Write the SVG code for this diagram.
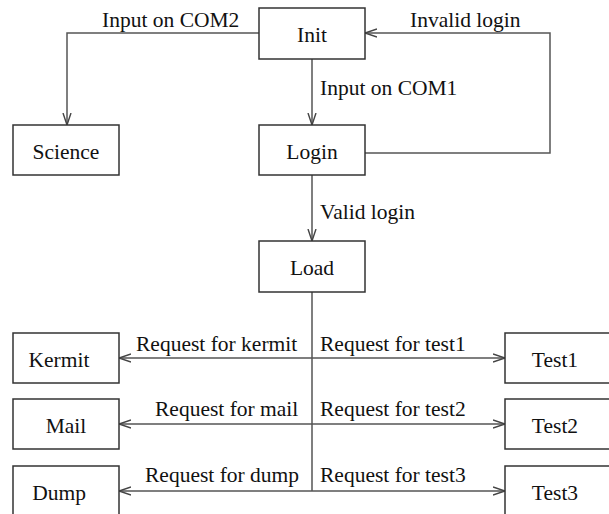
<svg xmlns="http://www.w3.org/2000/svg" width="609" height="514" viewBox="0 0 609 514">
<defs>
<style>
.box{fill:#fff;stroke:#333;stroke-width:1.5}
.t{font-family:"Liberation Serif","Times New Roman","DejaVu Serif",serif;font-size:21.5px;fill:#111}
.c{text-anchor:middle}
.ln{fill:none;stroke:#555;stroke-width:1.5}
</style>
<marker id="ah" viewBox="0 0 12 10" refX="12" refY="5" markerWidth="12" markerHeight="10" markerUnits="userSpaceOnUse" orient="auto-start-reverse">
<path d="M0,1 L12,5 L0,9" fill="none" stroke="#444" stroke-width="1.4"/>
</marker>
</defs>
<rect width="609" height="514" fill="#fff"/>
<g id="connectors">
<path class="ln" d="M259,33 H67 V125" marker-end="url(#ah)"/>
<path class="ln" d="M312,59 V125" marker-end="url(#ah)"/>
<path class="ln" d="M365,153 H550 V33 H365" marker-end="url(#ah)"/>
<path class="ln" d="M312,175 V241" marker-end="url(#ah)"/>
<path class="ln" d="M312,292 V491"/>
<path class="ln" d="M119,358 H505" marker-start="url(#ah)" marker-end="url(#ah)"/>
<path class="ln" d="M119,424 H505" marker-start="url(#ah)" marker-end="url(#ah)"/>
<path class="ln" d="M119,491 H505" marker-start="url(#ah)" marker-end="url(#ah)"/>
<text class="t" x="102" y="27">Input on COM2</text>
<text class="t" x="410" y="27">Invalid login</text>
<text class="t" x="320" y="95">Input on COM1</text>
<text class="t" x="320" y="219">Valid login</text>
<text class="t" x="136" y="351">Request for kermit</text>
<text class="t" x="320" y="351">Request for test1</text>
<text class="t" x="155" y="416">Request for mail</text>
<text class="t" x="320" y="416">Request for test2</text>
<text class="t" x="145" y="482">Request for dump</text>
<text class="t" x="320" y="482">Request for test3</text>
</g>
<g id="init"><rect class="box" x="259" y="8" width="106" height="51"/><text class="t c" x="312" y="42">Init</text></g>
<g id="science"><rect class="box" x="13" y="125" width="106" height="50"/><text class="t c" x="66" y="159">Science</text></g>
<g id="login"><rect class="box" x="259" y="125" width="106" height="50"/><text class="t c" x="312" y="159">Login</text></g>
<g id="load"><rect class="box" x="259" y="241" width="106" height="51"/><text class="t c" x="312" y="275">Load</text></g>
<g id="kermit"><rect class="box" x="13" y="333" width="106" height="50"/><text class="t c" x="59" y="367">Kermit</text></g>
<g id="test1"><rect class="box" x="505" y="333" width="110" height="50"/><text class="t c" x="555" y="367">Test1</text></g>
<g id="mail"><rect class="box" x="13" y="399" width="106" height="50"/><text class="t c" x="66" y="433">Mail</text></g>
<g id="test2"><rect class="box" x="505" y="399" width="110" height="50"/><text class="t c" x="555" y="433">Test2</text></g>
<g id="dump"><rect class="box" x="13" y="466" width="106" height="60"/><text class="t c" x="59" y="500">Dump</text></g>
<g id="test3"><rect class="box" x="505" y="466" width="110" height="60"/><text class="t c" x="555" y="500">Test3</text></g>
</svg>
